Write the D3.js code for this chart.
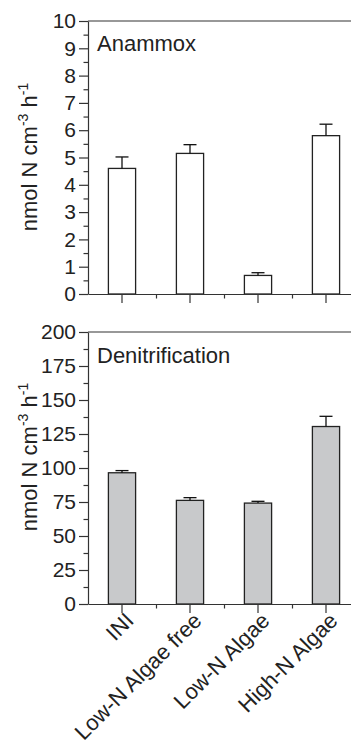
<!DOCTYPE html>
<html>
<head>
<meta charset="utf-8">
<script src="https://cdn.jsdelivr.net/npm/d3@7"></script>
<style>
  body { margin: 0; background: #fff; }
  svg { display: block; font-family: "Liberation Sans", Arial, Helvetica, sans-serif; }
  .axis path, .axis line { stroke: #333; stroke-width: 1.2; }
  .axis text { font-size: 21px; fill: #222; }
</style>
</head>
<body>
<div id="chart"></div>
<script>
// data -----------------------------------------------------------------
const categories = ['INI', 'Low-N Algae free', 'Low-N Algae', 'High-N Algae'];
const anammox = [4.6, 5.15, 0.68, 5.8];
const anammoxErr = [0.42, 0.32, 0.1, 0.42];
const denitrification = [96.5, 76.2, 74.2, 130.5];
const denitrificationErr = [1.6, 2.0, 1.3, 7.5];
const anammoxTicks = d3.range(0, 11, 1);
const denitTicks = d3.range(0, 201, 25);

// chart init -----------------------------------------------------------
const width = 351, height = 744;
const left = 88, right = 360;

const svg = d3.select('#chart')
  .append('svg')
  .attr('width', width)
  .attr('height', height);

const xScale = d3.scaleBand()
  .domain(categories)
  .range([left, right])
  .paddingInner(0.6)
  .paddingOuter(0.3);

// minor x ticks sit between the categories
const xMinor = d3.scaleLinear().domain([0, categories.length]).range([left, right]);

function panel(opts) {
  const yScale = d3.scaleLinear()
    .domain(opts.domain)
    .range([opts.bottom, opts.top]);

  const g = svg.append('g');

  // top frame line
  g.append('line')
    .attr('x1', left).attr('x2', right)
    .attr('y1', opts.top).attr('y2', opts.top)
    .attr('stroke', '#333').attr('stroke-width', 1.2);

  // bars
  g.selectAll('.bar')
    .data(opts.values)
    .enter()
    .append('rect')
    .attr('class', 'bar')
    .attr('x', (d, i) => xScale(categories[i]))
    .attr('width', xScale.bandwidth())
    .attr('y', d => yScale(d))
    .attr('height', d => opts.bottom - yScale(d))
    .attr('fill', opts.fill)
    .attr('stroke', '#222')
    .attr('stroke-width', 1.3);

  // error bars (upper only)
  const cx = i => xScale(categories[i]) + xScale.bandwidth() / 2;
  const err = g.selectAll('.err')
    .data(opts.values)
    .enter()
    .append('g')
    .attr('class', 'err');
  err.append('line')
    .attr('x1', (d, i) => cx(i)).attr('x2', (d, i) => cx(i))
    .attr('y1', d => yScale(d))
    .attr('y2', (d, i) => yScale(d + opts.errors[i]))
    .attr('stroke', '#111').attr('stroke-width', 1.3);
  err.append('line')
    .attr('x1', (d, i) => cx(i) - 6.5).attr('x2', (d, i) => cx(i) + 6.5)
    .attr('y1', (d, i) => yScale(d + opts.errors[i]))
    .attr('y2', (d, i) => yScale(d + opts.errors[i]))
    .attr('stroke', '#111').attr('stroke-width', 1.3);

  // y axis
  g.append('g')
    .attr('class', 'axis')
    .attr('transform', 'translate(' + left + ',0)')
    .call(d3.axisLeft(yScale).tickValues(opts.ticks).tickSize(9).tickSizeOuter(0).tickPadding(3));
  const step = opts.ticks[1] - opts.ticks[0];
  g.append('g')
    .attr('class', 'axis')
    .attr('transform', 'translate(' + left + ',0)')
    .call(d3.axisLeft(yScale).tickValues(opts.ticks.slice(1).map(t => t - step / 2)).tickSize(4.5).tickFormat(''))
    .select('.domain').remove();

  // x axis
  g.append('g')
    .attr('class', 'axis')
    .attr('transform', 'translate(0,' + opts.bottom + ')')
    .call(d3.axisBottom(xScale).tickSize(9).tickSizeOuter(0).tickFormat(''));
  g.append('g')
    .attr('class', 'axis')
    .attr('transform', 'translate(0,' + opts.bottom + ')')
    .call(d3.axisBottom(xMinor).tickValues([1, 2, 3]).tickSize(4.5).tickFormat(''))
    .select('.domain').remove();

  // panel title
  g.append('text')
    .attr('x', 97)
    .attr('y', opts.titleY)
    .attr('font-size', 22)
    .attr('fill', '#222')
    .text(opts.title);

  // y label with superscripts
  const lab = g.append('text')
    .attr('transform', 'translate(37,' + opts.labelY + ') rotate(-90)')
    .attr('text-anchor', 'middle')
    .attr('font-size', 22)
    .attr('fill', '#222');
  lab.append('tspan').text('nmol N cm');
  lab.append('tspan').attr('font-size', 14).attr('dy', -9).text('-3');
  lab.append('tspan').attr('dy', 9).text(' h');
  lab.append('tspan').attr('font-size', 14).attr('dy', -9).text('-1');

  return yScale;
}

panel({
  domain: [0, 10], top: 21, bottom: 294,
  values: anammox, errors: anammoxErr, ticks: anammoxTicks,
  fill: '#fff', title: 'Anammox', titleY: 51, labelY: 157
});

panel({
  domain: [0, 200], top: 332, bottom: 604,
  values: denitrification, errors: denitrificationErr, ticks: denitTicks,
  fill: '#c8c9cb', title: 'Denitrification', titleY: 363, labelY: 457
});

// rotated category labels
svg.selectAll('.xlabel')
  .data(categories)
  .enter()
  .append('text')
  .attr('class', 'xlabel')
  .attr('transform', d => 'translate(' + (xScale(d) + xScale.bandwidth() / 2 + 13) + ',622) rotate(-45)')
  .attr('text-anchor', 'end')
  .attr('font-size', 22)
  .attr('fill', '#222')
  .text(d => d);
</script>
</body>
</html>
